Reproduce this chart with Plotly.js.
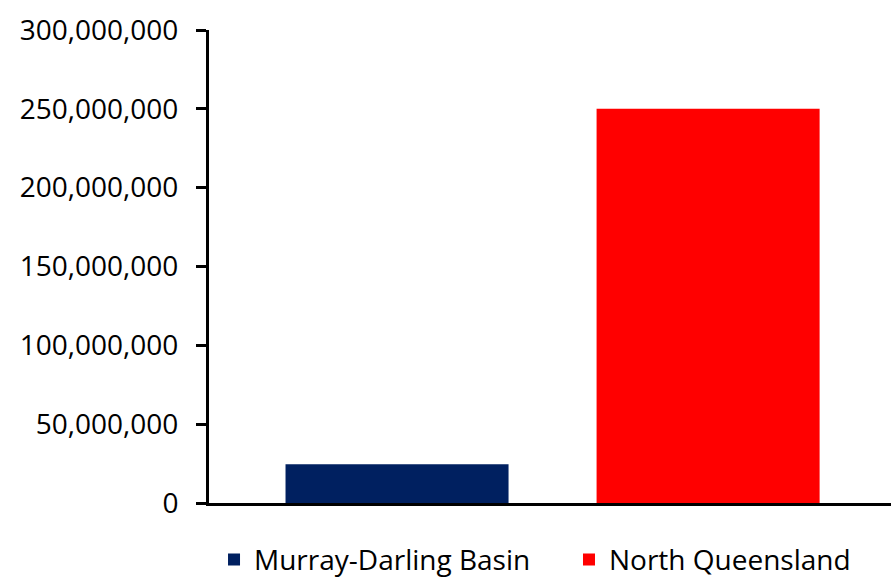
<!DOCTYPE html>
<html>
<head>
<meta charset="utf-8">
<script src="https://cdn.plot.ly/plotly-3.0.1.min.js"></script>
<style>html,body{margin:0;padding:0;background:#fff;}#chart{width:891px;height:577px;}</style>
</head>
<body>
<div id="chart"></div>
<script>
const regions = ["Murray-Darling Basin", "North Queensland"];
const values = [24500000, 250000000];
const colors = ["#002060", "#FF0000"];
const yTicks = [0, 50000000, 100000000, 150000000, 200000000, 250000000, 300000000];
const yTickLabels = ["0", "50,000,000", "100,000,000", "150,000,000", "200,000,000", "250,000,000", "300,000,000"];

const legendIds = ["legend", "legend2"];
const traces = regions.map((r, i) => ({
  type: "bar",
  name: r,
  x: [i],
  y: [values[i]],
  width: 0.717,
  marker: {color: colors[i]},
  legend: legendIds[i],
  hoverinfo: "skip"
}));

const font = {family: "Open Sans, Lato, sans-serif", size: 28, color: "#000"};
const legBase = {orientation: "h", xref: "container", yref: "container", xanchor: "left",
                 y: 0.03, yanchor: "middle", bgcolor: "rgba(0,0,0,0)", font: font};

const layout = {
  width: 891, height: 577,
  margin: {l: 209, r: 0, t: 30, b: 74, pad: 0, autoexpand: false},
  paper_bgcolor: "#fff", plot_bgcolor: "#fff",
  barmode: "overlay",
  showlegend: true,
  legend: Object.assign({}, legBase, {x: 0.2402}),
  legend2: Object.assign({}, legBase, {x: 0.6386}),
  xaxis: {range: [-0.6045, 1.588], showticklabels: false, ticks: "", showgrid: false,
          zeroline: false, showline: true, linecolor: "#000", linewidth: 3, fixedrange: true},
  yaxis: {range: [0, 300000000], tickvals: yTicks, ticktext: yTickLabels, ticks: "outside",
          ticklen: 10, tickwidth: 3, tickcolor: "#000", showgrid: false, zeroline: false,
          showline: true, linecolor: "#000", linewidth: 3, tickfont: font, ticklabelstandoff: 12},
  font: font
};

Plotly.newPlot("chart", traces, layout, {displayModeBar: false, staticPlot: true});
</script>
</body>
</html>
